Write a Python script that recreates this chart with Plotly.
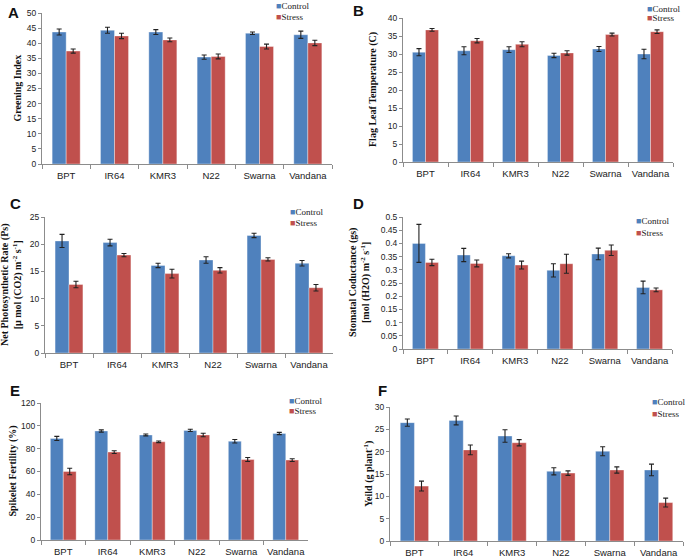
import plotly.graph_objects as go

genotypes = ["BPT", "IR64", "KMR3", "N22", "Swarna", "Vandana"]

# A - greening index
gi_control = [43.7, 44.3, 43.7, 35.4, 43.3, 42.8]
gi_control_err = [1.0, 1.0, 0.8, 0.7, 0.4, 1.2]
gi_stress = [37.4, 42.4, 41.1, 35.6, 38.9, 40.1]
gi_stress_err = [0.7, 0.9, 0.6, 0.8, 0.8, 0.9]

# B - flag leaf temperature
flt_control = [30.5, 30.9, 31.2, 29.6, 31.4, 30.0]
flt_control_err = [1.0, 1.1, 0.8, 0.6, 0.7, 1.3]
flt_stress = [36.7, 33.7, 32.7, 30.3, 35.4, 36.2]
flt_stress_err = [0.4, 0.6, 0.7, 0.6, 0.4, 0.5]

# C - net photosynthetic rate
ps_control = [20.6, 20.3, 16.1, 17.1, 21.6, 16.5]
ps_control_err = [1.2, 0.6, 0.4, 0.6, 0.4, 0.5]
ps_stress = [12.6, 18.0, 14.6, 15.2, 17.2, 12.0]
ps_stress_err = [0.6, 0.3, 0.8, 0.5, 0.3, 0.6]

# D - stomatal conductance
gs_control = [0.400, 0.356, 0.353, 0.298, 0.360, 0.233]
gs_control_err = [0.072, 0.025, 0.008, 0.025, 0.022, 0.024]
gs_stress = [0.328, 0.324, 0.318, 0.323, 0.374, 0.224]
gs_stress_err = [0.012, 0.013, 0.015, 0.036, 0.020, 0.007]

# E - spikelet fertility
sf_control = [89.0, 95.5, 92.0, 96.0, 86.5, 93.3]
sf_control_err = [1.8, 1.0, 0.8, 1.0, 1.5, 1.0]
sf_stress = [60.0, 77.0, 86.0, 92.0, 70.5, 70.0]
sf_stress_err = [2.8, 1.2, 0.7, 1.5, 1.8, 1.2]

# F - yield
yd_control = [26.5, 27.0, 23.5, 15.6, 20.1, 15.9]
yd_control_err = [0.8, 1.0, 1.4, 0.8, 1.0, 1.3]
yd_stress = [12.3, 20.4, 22.0, 15.2, 15.9, 8.6]
yd_stress_err = [1.1, 1.1, 0.7, 0.5, 0.7, 1.0]

BLUE = "#4F81BD"
RED = "#C0504D"
W, H = 685, 559

panels = [
    dict(letter="A", ctrl=gi_control, ce=gi_control_err, strs=gi_stress, se=gi_stress_err,
         box=(42, 332, 13, 164), rng=[0, 50], dtick=5,
         title="Greening Index", title_x=17, letter_pos=(6, 12), leg=(274, 6, 11)),
    dict(letter="B", ctrl=flt_control, ce=flt_control_err, strs=flt_stress, se=flt_stress_err,
         box=(403, 673, 18, 162), rng=[0, 40], dtick=5,
         title="Flag Leaf Temperature (C)", title_x=373, letter_pos=(351, 10), leg=(645, 9, 9)),
    dict(letter="C", ctrl=ps_control, ce=ps_control_err, strs=ps_stress, se=ps_stress_err,
         box=(45, 333, 217, 353), rng=[0, 25], dtick=5,
         title="Net Photosynthetic Rate (Ps)<br>[µ mol (CO2) m<sup>-2</sup> s<sup>-1</sup>]",
         title_x=11, letter_pos=(8, 203), leg=(288, 212, 11)),
    dict(letter="D", ctrl=gs_control, ce=gs_control_err, strs=gs_stress, se=gs_stress_err,
         box=(403, 672, 217, 349), rng=[0, 0.5], dtick=0.05,
         title="Stomatal Coductance (gs)<br>[mol (H2O) m<sup>-2</sup> s<sup>-1</sup>]",
         title_x=359, letter_pos=(351, 203), leg=(634, 221, 12)),
    dict(letter="E", ctrl=sf_control, ce=sf_control_err, strs=sf_stress, se=sf_stress_err,
         box=(41, 308, 403, 540), rng=[0, 120], dtick=20,
         title="Spikelet Fertility (%)", title_x=12, letter_pos=(8, 390), leg=(287, 401, 10)),
    dict(letter="F", ctrl=yd_control, ce=yd_control_err, strs=yd_stress, se=yd_stress_err,
         box=(390, 683, 407, 541), rng=[0, 30], dtick=5,
         title="Yeild (g plant<sup>-1</sup>)", title_x=368, letter_pos=(376, 390), leg=(650, 402, 12)),
]

fig = go.Figure()
annotations = []
layout = {}

for i, p in enumerate(panels):
    n = "" if i == 0 else str(i + 1)
    xa, ya = "x" + n, "y" + n
    x0, x1, y0, y1 = p["box"]
    for name, vals, errs, col in [("Control", p["ctrl"], p["ce"], BLUE),
                                  ("Stress", p["strs"], p["se"], RED)]:
        fig.add_trace(go.Bar(
            x=genotypes, y=vals, name=name, xaxis=xa, yaxis=ya, showlegend=False,
            marker=dict(color=col, line=dict(color="rgba(255,255,255,0.6)", width=0.6)),
            error_y=dict(type="data", array=errs, color="#222", thickness=1.1, width=2.5),
        ))
    layout["xaxis" + n] = dict(
        domain=[x0 / W, x1 / W], anchor=ya, showline=True, linecolor="#8c8c8c",
        linewidth=1, ticks="outside", tickson="boundaries", ticklen=4,
        tickcolor="#8c8c8c", tickangle=0, automargin=False, ticklabelstandoff=3,
        tickfont=dict(family="Liberation Sans", size=9.5, color="#222"),
        fixedrange=True,
    )
    layout["yaxis" + n] = dict(
        domain=[1 - y1 / H, 1 - y0 / H], anchor=xa, range=p["rng"], dtick=p["dtick"],
        showline=True, linecolor="#8c8c8c", linewidth=1, ticks="outside", ticklen=3,
        tickcolor="#8c8c8c", showgrid=False, zeroline=False, automargin=False,
        tickfont=dict(family="Liberation Sans", size=8.5, color="#222"),
        fixedrange=True,
    )
    # y-axis title
    annotations.append(dict(
        text="<b>" + p["title"] + "</b>", x=p["title_x"] / W, y=1 - (y0 + y1) / 2 / H,
        xref="paper", yref="paper", xanchor="center", yanchor="middle",
        textangle=-90, showarrow=False,
        font=dict(family="Liberation Serif", size=10, color="#111"),
    ))
    # panel letter
    annotations.append(dict(
        text="<b>" + p["letter"] + "</b>", x=p["letter_pos"][0] / W,
        y=1 - p["letter_pos"][1] / H, xref="paper", yref="paper",
        xanchor="left", yanchor="middle", showarrow=False,
        font=dict(family="Liberation Sans", size=15, color="#111"),
    ))
    # legend
    lx, ly, gap = p["leg"]
    for k, (name, col) in enumerate([("Control", BLUE), ("Stress", RED)]):
        annotations.append(dict(
            text=f"<span style='color:{col}'>■</span>{name}", x=lx / W,
            y=1 - (ly + k * gap) / H, xref="paper", yref="paper",
            xanchor="left", yanchor="middle", showarrow=False,
            font=dict(family="Liberation Serif", size=9, color="#222"),
        ))

fig.update_layout(
    width=W, height=H, margin=dict(l=0, r=0, t=0, b=0),
    paper_bgcolor="white", plot_bgcolor="white",
    barmode="group", bargap=0.42, bargroupgap=0,
    annotations=annotations, showlegend=False,
    **layout,
)

fig.write_html("out.html", config={"displayModeBar": False},
               post_script="document.body.style.margin='0';")
